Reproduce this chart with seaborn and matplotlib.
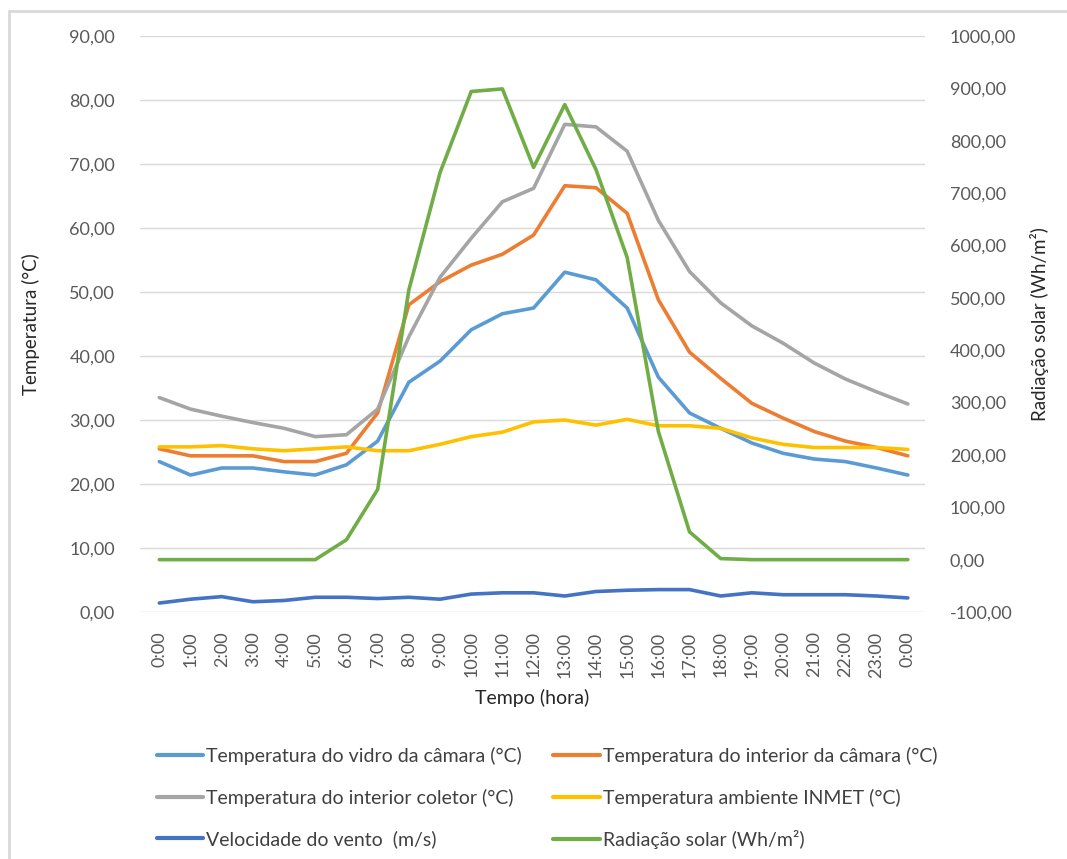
import numpy as np
import pandas as pd
import matplotlib
matplotlib.use("Agg")
import matplotlib.pyplot as plt
from matplotlib.lines import Line2D
import seaborn as sns

# hourly readings, 0:00 .. 0:00 next day
hours = ["0:00", "1:00", "2:00", "3:00", "4:00", "5:00", "6:00", "7:00", "8:00",
         "9:00", "10:00", "11:00", "12:00", "13:00", "14:00", "15:00", "16:00",
         "17:00", "18:00", "19:00", "20:00", "21:00", "22:00", "23:00", "0:00"]

t_vidro = [23.5, 21.4, 22.5, 22.5, 21.9, 21.4, 23.0, 26.7, 35.9, 39.2, 44.1, 46.6, 47.5,
           53.1, 51.9, 47.5, 36.7, 31.1, 28.7, 26.4, 24.8, 23.9, 23.5, 22.5, 21.4]
t_camara = [25.5, 24.4, 24.4, 24.4, 23.5, 23.5, 24.8, 31.1, 48.0, 51.6, 54.2, 55.9, 58.9,
            66.6, 66.3, 62.3, 48.8, 40.6, 36.5, 32.6, 30.3, 28.2, 26.7, 25.7, 24.4]
t_coletor = [33.5, 31.7, 30.6, 29.6, 28.7, 27.4, 27.7, 31.7, 43.0, 52.3, 58.4, 64.1, 66.2,
             76.2, 75.8, 72.0, 61.2, 53.2, 48.3, 44.7, 42.0, 38.9, 36.4, 34.4, 32.5]
t_inmet = [25.8, 25.8, 26.0, 25.5, 25.2, 25.5, 25.8, 25.2, 25.2, 26.2, 27.4, 28.1, 29.7,
           30.0, 29.2, 30.1, 29.1, 29.1, 28.7, 27.2, 26.2, 25.7, 25.7, 25.7, 25.4]
vento = [1.4, 2.0, 2.4, 1.6, 1.8, 2.3, 2.3, 2.1, 2.3, 2.0, 2.8, 3.0, 3.0,
         2.5, 3.2, 3.4, 3.5, 3.5, 2.5, 3.0, 2.7, 2.7, 2.7, 2.5, 2.2]
radiacao = [0, 0, 0, 0, 0, 0, 38, 134, 515, 739, 894, 899, 749,
            869, 745, 577, 245, 53, 2, 0, 0, 0, 0, 0, 0]

labels = ["Temperatura do vidro da câmara (°C)", "Temperatura do interior da câmara (°C)",
          "Temperatura do interior coletor (°C)", "Temperatura ambiente INMET (°C)",
          "Velocidade do vento  (m/s)", "Radiação solar (Wh/m²)"]
colors = ["#5B9BD5", "#ED7D31", "#A5A5A5", "#FFC000", "#4472C4", "#70AD47"]

sns.set_theme(style="white")
plt.rcParams["font.family"] = ["Lato", "DejaVu Sans"]
plt.rcParams["font.size"] = 13

left = pd.DataFrame({"x": np.arange(len(hours))})
for lab, vals in zip(labels[:5], [t_vidro, t_camara, t_coletor, t_inmet, vento]):
    left[lab] = vals
left = left.melt(id_vars="x", var_name="serie", value_name="valor")
right = pd.DataFrame({"x": np.arange(len(hours)), "valor": radiacao})

fig = plt.figure(figsize=(10.67, 8.59), dpi=100)
ax = fig.add_axes([140 / 1067, 1 - 612 / 859, 785 / 1067, 576 / 859])
ax2 = ax.twinx()

lw = 2.6
sns.lineplot(data=left, x="x", y="valor", hue="serie", palette=colors[:5],
             hue_order=labels[:5], lw=lw, ax=ax, legend=False)
sns.lineplot(data=right, x="x", y="valor", color=colors[5], lw=lw, ax=ax2)
# radiation line drawn in front of the temperature lines, as in the original
ax2.set_zorder(ax.get_zorder() + 1)

ax.set_ylim(0, 90)
ax.set_yticks(np.arange(0, 91, 10))
ax.set_yticklabels([f"{v:.2f}".replace(".", ",") for v in np.arange(0, 91, 10)])
ax2.set_ylim(-100, 1000)
ax2.set_yticks(np.arange(-100, 1001, 100))
ax2.set_yticklabels([f"{v:.2f}".replace(".", ",") for v in np.arange(-100, 1001, 100)])
ax.set_xlim(-0.62, 24.55)
ax.set_xticks(np.arange(len(hours)))
ax.set_xticklabels(hours, rotation=90, va="top")

ax.grid(axis="y", color="#D9D9D9", lw=1)
ax.set_axisbelow(True)
for a in (ax, ax2):
    for s in a.spines.values():
        s.set_visible(False)
    a.tick_params(length=0, colors="#595959", labelsize=13)
ax.tick_params(axis="y", pad=18)
ax.tick_params(axis="x", pad=14)
ax2.tick_params(axis="y", pad=18)

ax.set_xlabel("Tempo (hora)", fontsize=14, color="#262626")
ax.set_ylabel("Temperatura (°C)", fontsize=13.5, color="#262626")
ax2.set_ylabel("Radiação solar (Wh/m²)", fontsize=13.5, color="#262626", rotation=90)
ax.xaxis.set_label_coords(0.50, -0.133)
ax.yaxis.set_label_coords(-0.128, 0.5)
ax2.yaxis.set_label_coords(1.134, 0.5)

# legend filled row by row (matplotlib fills columns first)
order = [0, 2, 4, 1, 3, 5]
handles = [Line2D([], [], color=colors[i], lw=3) for i in order]
fig.legend(handles, [labels[i] for i in order], ncol=2, loc="center",
           bbox_to_anchor=(547 / 1067, 1 - 798 / 859),
           frameon=False, fontsize=14, handlelength=2.4, handletextpad=0.15,
           columnspacing=1.6, labelspacing=1.2, labelcolor="#404040")

# chart frame (only top and left edges visible in the crop)
fig.add_artist(Line2D([9 / 1067, 9 / 1067], [0, 1 - 11 / 859], color="#D9D9D9", lw=2,
                      transform=fig.transFigure))
fig.add_artist(Line2D([9 / 1067, 1], [1 - 11 / 859, 1 - 11 / 859], color="#D9D9D9", lw=2,
                      transform=fig.transFigure))

fig.savefig("out.png", dpi=100)
